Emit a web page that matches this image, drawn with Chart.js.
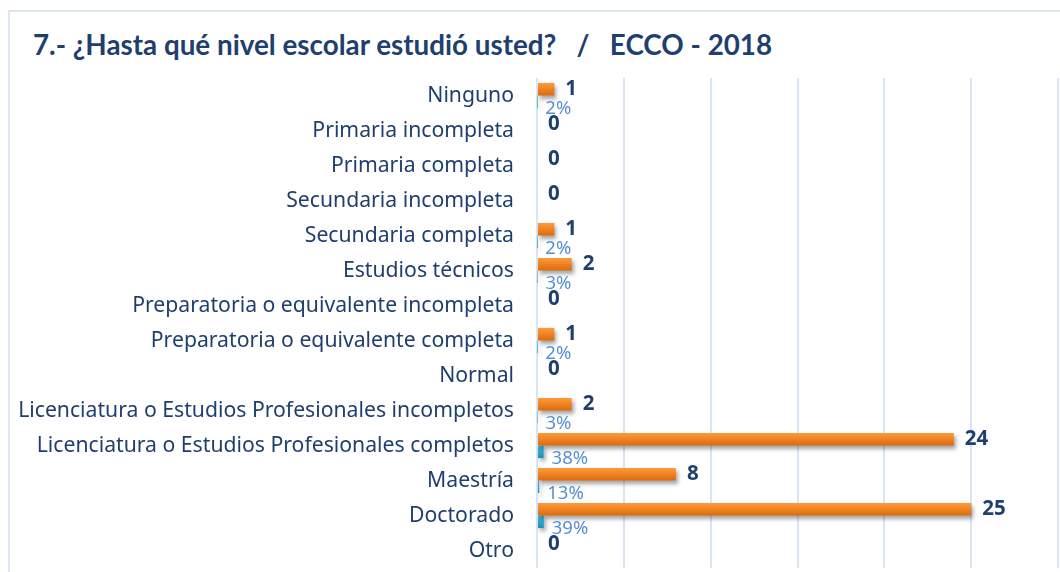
<!DOCTYPE html>
<html>
<head>
<meta charset="utf-8">
<script src="https://cdn.jsdelivr.net/npm/chart.js@4.4.1/dist/chart.umd.min.js"></script>
<style>
  html, body { margin: 0; padding: 0; background: #fff; }
  body { width: 1060px; height: 572px; position: relative; overflow: hidden; }
  #frame { position: absolute; left: 8px; top: 10px; width: 1100px; height: 600px; border-left: 2px solid #DDE7F3; border-top: 2px solid #DDE7F3; box-sizing: border-box; }
  #title { position: absolute; left: 33px; top: 28px; font-family: Lato, "Noto Sans", sans-serif; font-weight: bold; font-size: 27.8px; color: #1F3F6E; white-space: pre; }
  #wrap { position: absolute; left: 0; top: 0; width: 1060px; height: 572px; }
</style>
</head>
<body>
<div id="frame"></div>
<div id="title">7.- ¿Hasta qué nivel escolar estudió usted?   /   ECCO - 2018</div>
<div id="wrap"><canvas id="c" width="1060" height="572"></canvas></div>
<script>
const categories = [
  "Ninguno",
  "Primaria incompleta",
  "Primaria completa",
  "Secundaria incompleta",
  "Secundaria completa",
  "Estudios técnicos",
  "Preparatoria o equivalente incompleta",
  "Preparatoria o equivalente completa",
  "Normal",
  "Licenciatura o Estudios Profesionales incompletos",
  "Licenciatura o Estudios Profesionales completos",
  "Maestría",
  "Doctorado",
  "Otro"
];
const counts = [1, 0, 0, 0, 1, 2, 0, 1, 0, 2, 24, 8, 25, 0];
const shares = [0.02, 0, 0, 0, 0.02, 0.03, 0, 0.02, 0, 0.03, 0.38, 0.13, 0.39, 0];

const ORANGE_TOP = "#FF9B3A", ORANGE_BOT = "#DD6B0E";
const BLUE_TOP = "#3DC0E0", BLUE_BOT = "#1D8DB6";
const FONT = "'Noto Sans', 'Open Sans', sans-serif";

const barStyle = {
  id: "barStyle",
  beforeDatasetsDraw(chart) {
    const ctx = chart.ctx;
    chart.data.datasets.forEach((ds, di) => {
      const meta = chart.getDatasetMeta(di);
      meta.data.forEach(el => {
        const h = el.height || 10;
        const top = el.y - h / 2, bot = el.y + h / 2;
        const g = ctx.createLinearGradient(0, top, 0, bot);
        g.addColorStop(0, di === 0 ? ORANGE_TOP : BLUE_TOP);
        g.addColorStop(1, di === 0 ? ORANGE_BOT : BLUE_BOT);
        el.options = Object.assign({}, el.options, { backgroundColor: g });
      });
    });
    ctx.save();
    ctx.shadowColor = "rgba(0,0,0,0.35)";
    ctx.shadowBlur = 4;
    ctx.shadowOffsetX = 2;
    ctx.shadowOffsetY = 3;
  },
  afterDatasetsDraw(chart) {
    const ctx = chart.ctx;
    ctx.restore();
    ctx.save();
    ctx.textBaseline = "middle";
    ctx.textAlign = "left";
    const m0 = chart.getDatasetMeta(0);
    ctx.font = "bold 20.5px " + FONT;
    ctx.fillStyle = "#1F3F6E";
    m0.data.forEach((el, i) => {
      ctx.fillText(String(counts[i]), el.x + 11, el.y);
    });
    const m1 = chart.getDatasetMeta(1);
    ctx.font = "18.5px " + FONT;
    ctx.fillStyle = "#5A8FD4";
    m1.data.forEach((el, i) => {
      if (shares[i] > 0) {
        ctx.fillText(Math.round(shares[i] * 100) + "%", el.x + 8, el.y + 7);
      }
    });
    ctx.restore();
  }
};

new Chart(document.getElementById("c"), {
  type: "bar",
  data: {
    labels: categories,
    datasets: [
      { label: "Frecuencia", data: counts, backgroundColor: ORANGE_TOP, borderWidth: 0 },
      { label: "Porcentaje", data: shares, backgroundColor: BLUE_TOP, borderWidth: 0 }
    ]
  },
  options: {
    indexAxis: "y",
    responsive: false,
    animation: false,
    events: [],
    layout: { padding: { top: 78, bottom: 4, right: 2, left: 0 } },
    datasets: { bar: { categoryPercentage: 0.72, barPercentage: 1.0 } },
    plugins: { legend: { display: false }, tooltip: { enabled: false }, title: { display: false } },
    scales: {
      x: {
        min: 0, max: 30,
        ticks: { display: false, stepSize: 5 },
        grid: { color: "#D9E5F3", lineWidth: 2, drawTicks: false },
        border: { display: false },
        afterFit(scale) { scale.height = 0; scale.paddingLeft = 0; scale.paddingRight = 0; }
      },
      y: {
        ticks: { color: "#1F3F6E", font: { family: FONT, size: 21.2 }, padding: 23, autoSkip: false },
        grid: { display: false, drawTicks: false },
        border: { display: false },
        afterFit(scale) { scale.width = 537; scale.paddingTop = 0; scale.paddingBottom = 0; }
      }
    }
  },
  plugins: [barStyle]
});
</script>
</body>
</html>
